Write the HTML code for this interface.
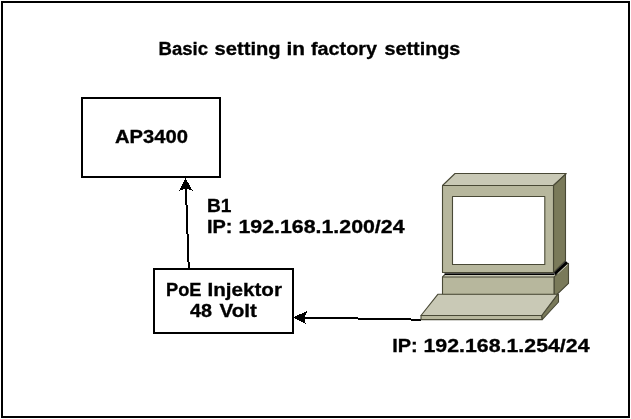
<!DOCTYPE html>
<html>
<head>
<meta charset="utf-8">
<title>Basic setting in factory settings</title>
<style>
html,body{margin:0;padding:0;background:#fff;}
body{width:631px;height:419px;overflow:hidden;}
svg{display:block;}
text{font-family:"Liberation Sans",sans-serif;font-weight:bold;font-size:17.6px;fill:#000;stroke:#000;stroke-width:0.3px;}
svg{will-change:transform;}
</style>
</head>
<body>
<svg width="631" height="419" viewBox="0 0 631 419">
  <rect x="0" y="0" width="631" height="419" fill="#fff"/>
  <!-- outer frame -->
  <rect x="2" y="2" width="627" height="415" fill="none" stroke="#000" stroke-width="2"/>

  <!-- title -->
  <text y="54.8"><tspan x="158.6" textLength="49.5" lengthAdjust="spacingAndGlyphs">Basic</tspan> <tspan x="214.6" textLength="66" lengthAdjust="spacingAndGlyphs">setting</tspan> <tspan x="286.6" textLength="18.5" lengthAdjust="spacingAndGlyphs">in</tspan> <tspan x="311" textLength="66" lengthAdjust="spacingAndGlyphs">factory</tspan> <tspan x="384.4" textLength="76" lengthAdjust="spacingAndGlyphs">settings</tspan></text>

  <!-- AP3400 box -->
  <rect x="82" y="98" width="138" height="79" fill="#fff" stroke="#000" stroke-width="2"/>
  <text x="115" y="142.9" textLength="73" lengthAdjust="spacingAndGlyphs">AP3400</text>

  <!-- PoE box -->
  <rect x="154" y="269" width="139" height="64" fill="#fff" stroke="#000" stroke-width="2"/>
  <text y="296"><tspan x="166" textLength="35.5" lengthAdjust="spacingAndGlyphs">PoE</tspan> <tspan x="207.5" textLength="74.5" lengthAdjust="spacingAndGlyphs">Injektor</tspan></text>
  <text y="316.5"><tspan x="190" textLength="22" lengthAdjust="spacingAndGlyphs">48</tspan> <tspan x="219.5" textLength="37.5" lengthAdjust="spacingAndGlyphs">Volt</tspan></text>

  <!-- vertical arrow -->
  <line x1="188.7" y1="267.7" x2="185.9" y2="188" stroke="#000" stroke-width="2" shape-rendering="crispEdges"/>
  <polygon points="185.6,178.2 192.8,190.8 186,188.6 179.2,190.8" fill="#000" shape-rendering="crispEdges"/>

  <!-- horizontal arrow -->
  <line x1="421" y1="319.7" x2="304" y2="317.5" stroke="#000" stroke-width="2" shape-rendering="crispEdges"/>
  <polygon points="292.8,317.4 307.1,311.1 304.5,317.5 305.7,323.8" fill="#000" shape-rendering="crispEdges"/>

  <!-- labels -->
  <text x="207" y="211.8" textLength="24.5" lengthAdjust="spacingAndGlyphs">B1</text>
  <text y="232.8"><tspan x="207" textLength="25.5" lengthAdjust="spacingAndGlyphs">IP:</tspan> <tspan x="238.5" textLength="166" lengthAdjust="spacingAndGlyphs">192.168.1.200/24</tspan></text>
  <text y="351.8"><tspan x="392.2" textLength="25.5" lengthAdjust="spacingAndGlyphs">IP:</tspan> <tspan x="423.5" textLength="166" lengthAdjust="spacingAndGlyphs">192.168.1.254/24</tspan></text>

  <!-- computer -->
  <g stroke="#494936" stroke-width="1.1" stroke-linejoin="round">
    <!-- monitor top -->
    <polygon points="442.5,185.5 455,173.5 566.3,173.5 553.5,185.5" fill="#c9c9b6"/>
    <!-- monitor side -->
    <polygon points="553.5,185.5 565.5,174.3 565.5,260.6 553.5,272.3" fill="#7a7a5a"/>
    <!-- base top strip -->
    <polygon points="442.4,277 444.8,274.8 555,274.8 568.4,263.2 568.4,265 554.2,277" fill="#c9c9b6" stroke="none"/>
    <line x1="442.4" y1="277" x2="444.8" y2="274.6"/>
    <!-- base side -->
    <polygon points="554.2,276.8 568.5,263.4 568.5,283.4 554.2,297" fill="#7a7a5a"/>
    <!-- base front -->
    <rect x="442.5" y="277" width="111.5" height="17.5" fill="#b7b79d"/>
    <!-- monitor front -->
    <rect x="442.5" y="185.5" width="111" height="87" fill="#b7b79d"/>
    <!-- screen -->
    <rect x="452.5" y="196.5" width="92.3" height="68" fill="#fff"/>
    <!-- keyboard side -->
    <polygon points="557.6,294.3 558.5,294.3 558.5,302 542.2,319.6 541.7,315.5" fill="#7a7a5a"/>
    <!-- keyboard front -->
    <polygon points="421,315.5 541.5,315.5 542,319.6 421,319.6" fill="#b7b79d"/>
    <!-- keyboard top -->
    <polygon points="437.8,294.3 557.6,294.3 541.7,315.5 421,315.5" fill="#c9c9b6"/>
  </g>
  <!-- dark gap between monitor and base -->
  <rect x="444.5" y="273.3" width="110" height="1.7" fill="#000"/>
  <polygon points="554,272.4 565.8,260.9 568.2,263.3 555.3,275.2" fill="#000"/>
  <line x1="557.5" y1="273.9" x2="567.6" y2="264.6" stroke="#dbdbcc" stroke-width="0.9"/>
</svg>
</body>
</html>
